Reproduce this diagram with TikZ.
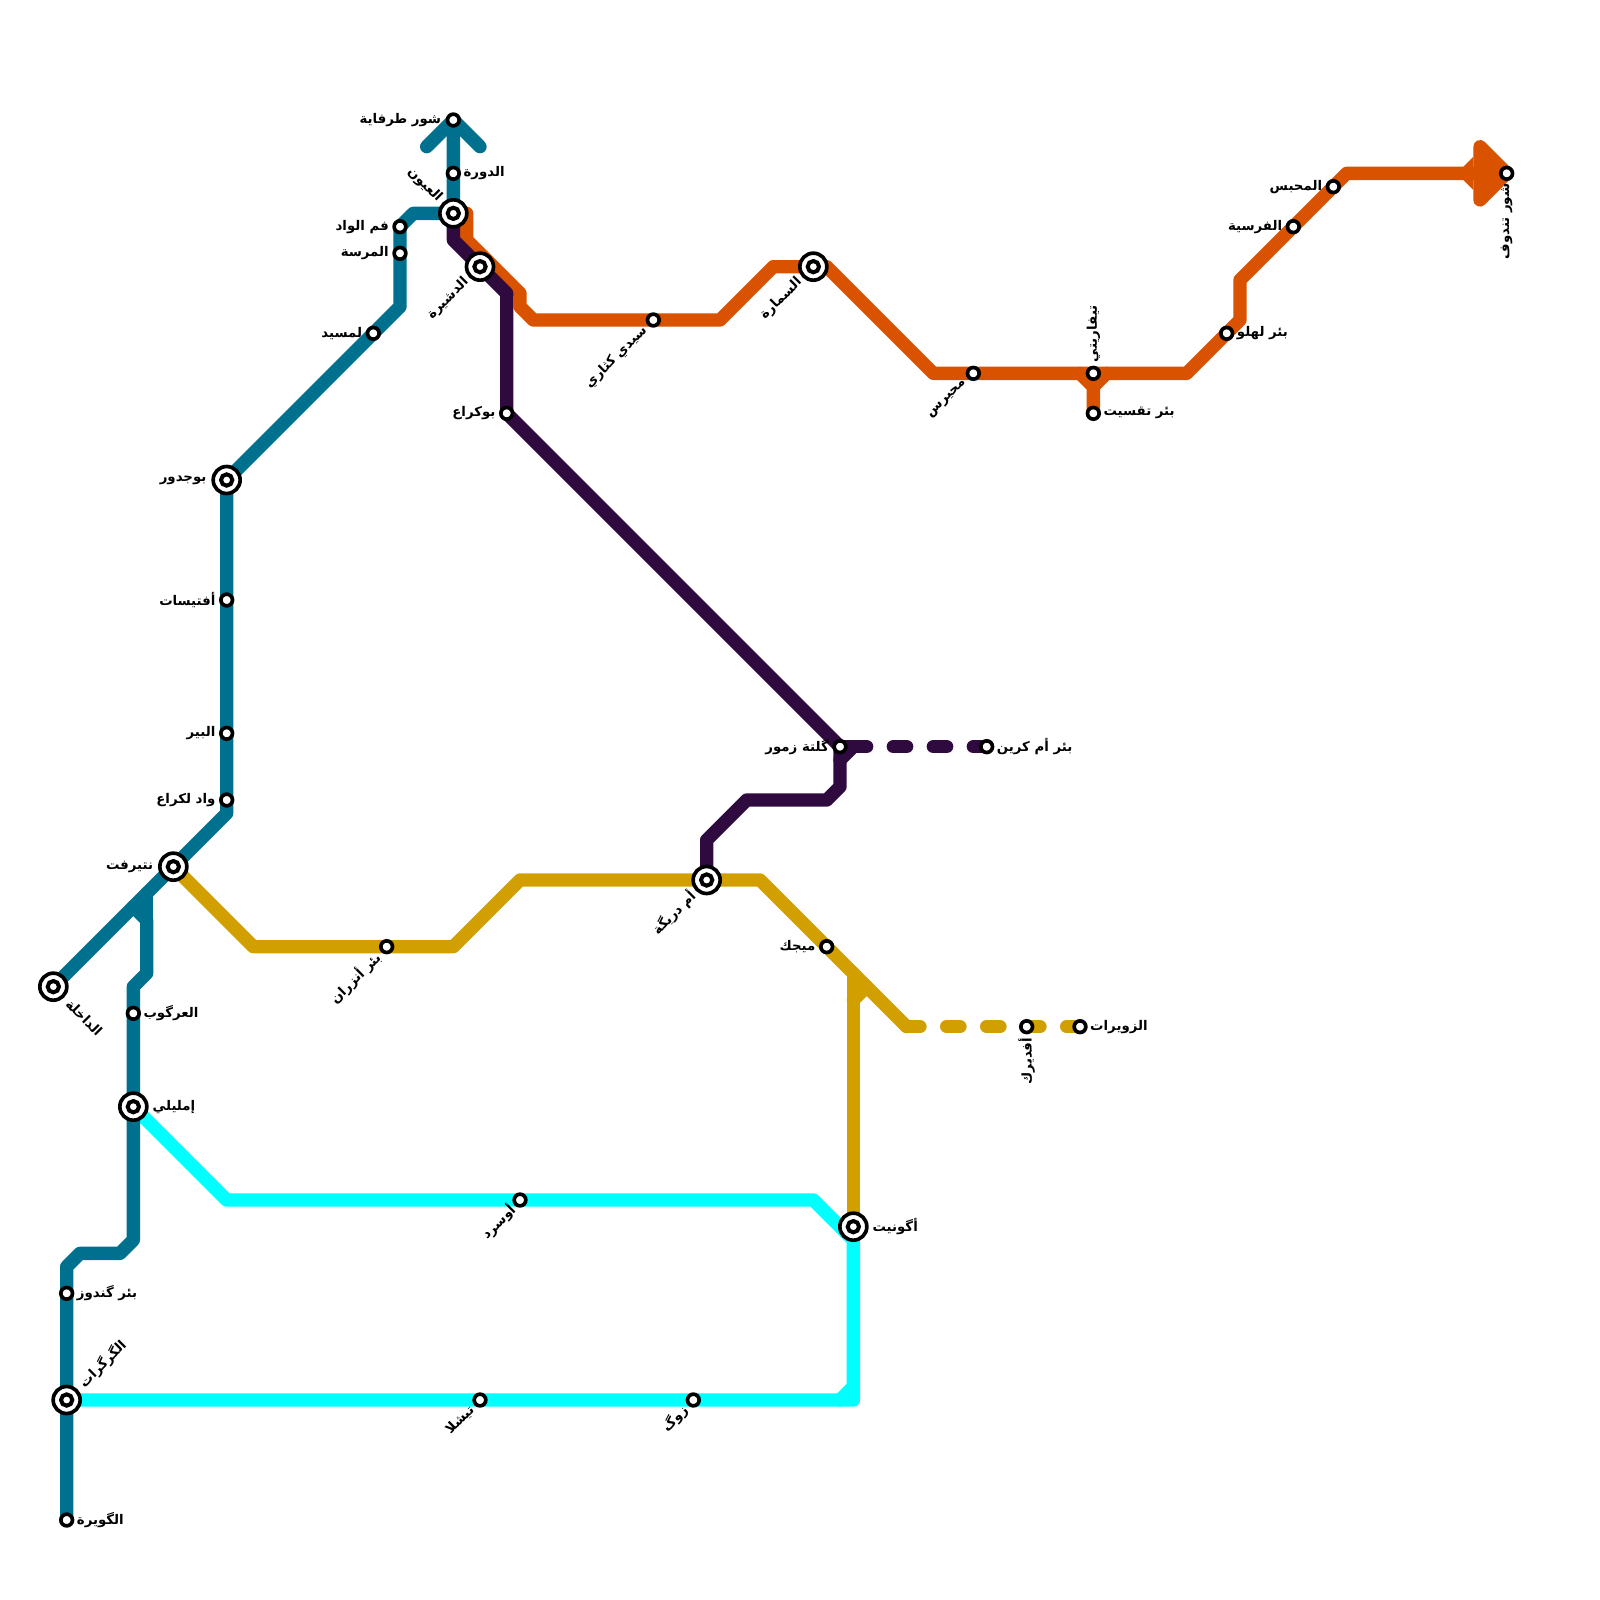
\documentclass[tikz,border=0pt]{standalone}
\usepackage{fontspec}
\newfontfamily\arabicfont[Script=Arabic]{DejaVu Sans}
\TeXXeTstate=1
\usetikzlibrary{positioning, backgrounds}
\definecolor{bluelinecol}{HTML}{00708F}
\definecolor{orangelinecol}{HTML}{D95200}
\definecolor{purplelinecol}{HTML}{2E0A3E}
\definecolor{goldlinecol}{HTML}{D19F00}
\definecolor{cyanlinecol}{HTML}{00FFFF}
\newcommand{\ar}[1]{\beginR #1\endR}
\tikzset{
    stn/.style={circle, draw=black, fill=white, line width=0.11cm, inner sep=0pt, minimum size=0.35cm},
    xstn/.style={circle, draw=black, fill=white, line width=0.11cm, inner sep=0pt, minimum size=0.81cm,
        path picture={\draw[black, line width=0.12cm] (path picture bounding box.center) circle (0.17cm);}},
    lbl/.style={inner sep=0pt, font=\arabicfont\bfseries\fontsize{11.38}{13}\selectfont},
    upr/.style={lbl, rotate=45, anchor=east},
    upl/.style={lbl, rotate=45, anchor=west},
    mline/.style={line width=0.4cm, line cap=round, line join=round},
    dline/.style={mline, dash pattern=on 0.4cm off 0.8cm}
}
\begin{document}
\begin{tikzpicture}[
            x=0.4cm,
            y=-0.4cm
            ]
            \useasboundingbox (0,0) rectangle (120,120);

            % blue stations
            \node[stn] (gouira) at (5,114) {};
            \node[xstn] (guerguerat) at (5,105) {};
            \node[stn] (gandouz) at (5,97) {};
            \node[xstn] (imlili) at (10,83) {};
            \node[stn] (argub) at (10,76) {};
            \node[xstn] (dakhla) at (4,74) {};
            \node[xstn] (natirfat) at (13,65) {};
            \node[stn] (lakra) at (17,60) {};
            \node[stn] (bir) at (17,55) {};
            \node[stn] (aftisat) at (17,45) {};
            \node[xstn] (boujdour) at (17,36) {};
            \node[stn] (lamsid) at (28,25) {};
            \node[stn] (marsa) at (30,19) {};
            \node[stn] (fam) at (30,17) {};
            \node[xstn] (uyun) at (34,16) {};
            \node[stn] (dawra) at (34,13) {};
            \node[stn] (tarfaya) at (34,9) {};

            % orange stations
            \node[stn] (sidi) at (49,24) {};
            \node[xstn] (samara) at (61,20) {};
            \node[stn] (muhris) at (73,28) {};
            \node[stn] (tifariti) at (82,28) {};
            \node[stn] (tifasit) at (82,31) {};
            \node[stn] (lahlou) at (92,25) {};
            \node[stn] (farsiya) at (97,17) {};
            \node[stn] (mahbes) at (100,14) {};
            \node[stn] (tindouf) at (113,13) {};

            % purple stations
            \node[xstn] (dashira) at (36,20) {};
            \node[stn] (boukra) at (38,31) {};
            \node[stn] (guelta) at (63,56) {};
            \node[stn] (umkrein) at (74,56) {};

            % gold stations
            \node[stn] (anzaran) at (29,71) {};
            \node[xstn] (dreiga) at (53,66) {};
            \node[stn] (mijek) at (62,71) {};
            \node[stn] (ifdirak) at (77,77) {};
            \node[stn] (zouerate) at (81,77) {};
            \node[xstn] (agounit) at (64,92) {};

            % cyan stations
            \node[stn] (awsard) at (39,90) {};
            \node[stn] (tichla) at (36,105) {};
            \node[stn] (zug) at (52,105) {};

            % free ends
            \coordinate (orangestart) at (35,16);
            \coordinate (purpledash) at (64,56);
            \coordinate (golddash) at (68,77);

            % labels
            \node[lbl, right=0.3cm of gouira.center] (gouiralbl) {\ar{الگويرة}};
            \node[upl, above right=0.63cm of guerguerat.center, anchor=west] (guerguerlbl) {\ar{الگرگرات}};
            \node[lbl, right=0.3cm of gandouz.center] (gandouzlbl) {\ar{بئر گندوز}};
            \node[lbl, right=0.57cm of imlili.center] (imlililbl) {\ar{إمليلي}};
            \node[lbl, right=0.3cm of argub.center] (argublbl) {\ar{العرگوب}};
            \node[lbl, rotate=-45, below right=0.63cm of dakhla.center, anchor=west] (dakhlalbl) {\ar{الداخلة}};
            \node[lbl, left=0.6cm of natirfat.center] (natirfatlbl) {\ar{نتيرفت}};
            \node[lbl, left=0.33cm of lakra.center] (lakralbl) {\ar{واد لكراع}};
            \node[lbl, left=0.33cm of bir.center] (birlbl) {\ar{البير}};
            \node[lbl, left=0.33cm of aftisat.center] (aftisatlbl) {\ar{أفتيسات}};
            \node[lbl, left=0.6cm of boujdour.center] (boujdourlbl) {\ar{بوجدور}};
            \node[lbl, left=0.33cm of lamsid.center] (lamsidlbl) {\ar{لمسيد}};
            \node[lbl, left=0.33cm of marsa.center] (marsalbl) {\ar{المرسة}};
            \node[lbl, left=0.33cm of fam.center] (famlbl) {\ar{فم الواد}};
            \node[lbl, rotate=-45, above left=0.57cm of uyun.center, anchor=east] (uyunlbl) {\ar{العيون}};
            \node[lbl, right=0.3cm of dawra.center] (dawralbl) {\ar{الدورة}};
            \node[lbl, left=0.36cm of tarfaya.center] (tarfayalbl) {\ar{شور طرفاية}};

            \node[upr, below left=0.35cm of sidi.center, anchor=east] (sidilbl) {\ar{سيدي كثاري}};
            \node[upr, below left=0.57cm of samara.center, anchor=east] (samaralbl) {\ar{السمارة}};
            \node[upr, below left=0.35cm of muhris.center, anchor=east] (muhrislbl) {\ar{محيرس}};
            \node[lbl, rotate=90, above=0.33cm of tifariti.center, anchor=west] (tifaritilbl) {\ar{تيفاريتي}};
            \node[lbl, right=0.3cm of tifasit.center] (tifasitlbl) {\ar{بئر تقسيت}};
            \node[lbl, right=0.3cm of lahlou.center] (lahloulbl) {\ar{بئر لهلو}};
            \node[lbl, left=0.33cm of farsiya.center] (farsiyalbl) {\ar{الفرسية}};
            \node[lbl, left=0.33cm of mahbes.center] (mahbeslbl) {\ar{المحبس}};
            \node[lbl, rotate=90, below=0.3cm of tindouf.center, anchor=east] (tindouflbl) {\ar{شور تندوف}};

            \node[upr, below left=0.57cm of dashira.center, anchor=east] (dashiralbl) {\ar{الدشيرة}};
            \node[lbl, left=0.33cm of boukra.center] (boukralbl) {\ar{بوكراع}};
            \node[lbl, left=0.33cm of guelta.center] (gueltalbl) {\ar{گلتة زمور}};
            \node[lbl, right=0.3cm of umkrein.center] (umkreinlbl) {\ar{بئر أم كرين}};

            \node[upr, below left=0.35cm of anzaran.center, anchor=east] (anzaranlbl) {\ar{بئر أنزران}};
            \node[upr, below left=0.57cm of dreiga.center, anchor=east] (dreigalbl) {\ar{أم دريگة}};
            \node[lbl, left=0.33cm of mijek.center] (mijeklbl) {\ar{ميجك}};
            \node[lbl, rotate=90, below=0.33cm of ifdirak.center, anchor=east] (ifdiraklbl) {\ar{أفديرك}};
            \node[lbl, right=0.3cm of zouerate.center] (zoueratelbl) {\ar{الزويرات}};
            \node[lbl, right=0.57cm of agounit.center] (agounitlbl) {\ar{أگونيت}};

            \node[upr, below left=0.3cm of awsard.center, anchor=east] (awsardlbl) {\ar{أوسرد}};
            \node[upr, below left=0.33cm of tichla.center, anchor=east] (tichlalbl) {\ar{تيشلا}};
            \node[upr, below left=0.33cm of zug.center, anchor=east] (zuglbl) {\ar{زوگ}};

            \begin{scope}[on background layer]
            % cyan
            \draw[mline, cyanlinecol] (guerguerat.center) -- (tichla.center) -- (zug.center) -- (64,105) -- (64,93) -- (61,90) -- (awsard.center) -- (17,90) -- (imlili.center);
            \draw[mline, cyanlinecol] (63,105) -- (64,104);
            \draw[mline, cyanlinecol] (64,93) -- (agounit.center);

            % gold
            \draw[mline, goldlinecol] (natirfat.center) -- (19,71) -- (anzaran.center) -- (34,71) -- (39,66) -- (dreiga.center) -- (57,66) -- (mijek.center) -- (golddash);
            \draw[dline, goldlinecol] (golddash) -- (zouerate.center);
            \draw[mline, goldlinecol] (agounit.center) -- (64,73);
            \draw[mline, goldlinecol] (64,75) -- (65,74);

            % orange
            \draw[mline, orangelinecol] (orangestart) -- (35,18) -- (39,22) -- (39,23) -- (40,24) -- (sidi.center) -- (54,24) -- (58,20) -- (samara.center) -- (62,20) -- (70,28) -- (muhris.center) -- (tifariti.center) -- (89,28) -- (lahlou.center) -- (93,24) -- (93,21) -- (farsiya.center) -- (mahbes.center) -- (101,13) -- (tindouf.center);
            \draw[mline, orangelinecol] (tifasit.center) -- (82,29) -- (81,28);
            \draw[mline, orangelinecol] (82,29) -- (83,28);
            \fill[orangelinecol] (109.75,12.5) -- (110.5,11.75) -- (110.5,14.25) -- (109.75,13.5) -- cycle;
            \draw[mline, orangelinecol, fill=orangelinecol] (111,11) -- (tindouf.center) -- (111,15) -- cycle;

            % purple
            \draw[mline, purplelinecol] (uyun.center) -- (34,18) -- (dashira.center) -- (38,22) -- (boukra.center) -- (guelta.center) -- (63,59) -- (62,60) -- (56,60) -- (53,63) -- (dreiga.center);
            \draw[mline, purplelinecol] (guelta.center) -- (purpledash);
            \draw[mline, purplelinecol] (63,57) -- (purpledash);
            \draw[dline, purplelinecol] (purpledash) -- (umkrein.center);

            % blue
            \draw[mline, bluelinecol] (gouira.center) -- (guerguerat.center) -- (gandouz.center) -- (5,95) -- (6,94) -- (9,94) -- (10,93) -- (imlili.center) -- (argub.center) -- (10,74) -- (11,73) -- (11,69) -- (10,68);
            \draw[mline, bluelinecol] (11,69) -- (11,67);
            \draw[mline, bluelinecol] (dakhla.center) -- (natirfat.center) -- (17,61) -- (lakra.center) -- (bir.center) -- (aftisat.center) -- (boujdour.center) -- (lamsid.center) -- (30,23) -- (marsa.center) -- (fam.center) -- (31,16) -- (uyun.center) -- (dawra.center) -- (tarfaya.center);
            \draw[mline, bluelinecol] (32,11) -- (tarfaya.center) -- (36,11);
            \end{scope}
        \end{tikzpicture}
\end{document}
